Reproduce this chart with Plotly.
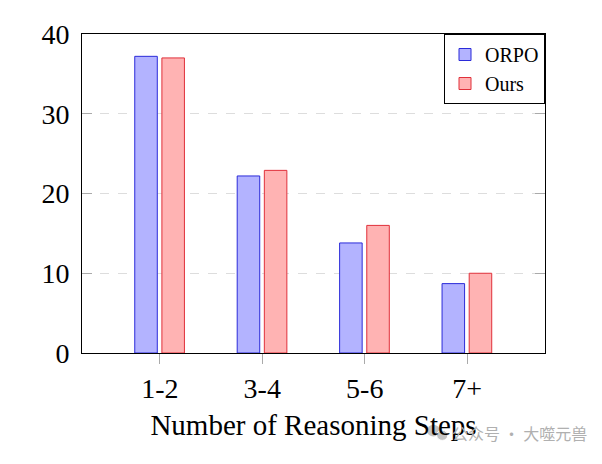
import plotly.graph_objects as go

categories = ["1-2", "3-4", "5-6", "7+"]
orpo_values = [37.2, 22.2, 13.8, 8.7]
ours_values = [37.0, 22.9, 16.0, 10.0]
y_ticks = [0, 10, 20, 30, 40]

serif = "Liberation Serif, Times New Roman, serif"

fig = go.Figure()
fig.add_trace(go.Bar(x=categories, y=orpo_values, name="ORPO",
                     marker=dict(color="#b3b3ff", line=dict(color="#2b2bd9", width=1)),
                     width=0.22, offset=-0.245))
fig.add_trace(go.Bar(x=categories, y=ours_values, name="Ours",
                     marker=dict(color="#ffb3b3", line=dict(color="#e0303a", width=1)),
                     width=0.22, offset=0.02))

fig.update_layout(
    width=602, height=464,
    margin=dict(l=82, r=57, t=34, b=111),
    plot_bgcolor="white", paper_bgcolor="white",
    font=dict(family=serif, color="black", size=28),
    showlegend=True,
    legend=dict(x=1, y=1, xanchor="right", yanchor="top",
                bordercolor="black", borderwidth=1, bgcolor="white",
                font=dict(size=20, family=serif), tracegroupgap=2),
    xaxis=dict(range=[-0.76, 3.76], showline=True, linecolor="black", linewidth=1,
               mirror=True, ticks="outside", ticklen=10, tickcolor="#aaaaaa",
               showgrid=False, tickfont=dict(size=28),
               title=dict(text="Number of Reasoning Steps", font=dict(size=29), standoff=12)),
    yaxis=dict(range=[0, 40], tickvals=y_ticks, showline=True, linecolor="black",
               linewidth=1, mirror="ticks", ticks="inside", ticklen=10, tickcolor="#aaaaaa",
               showgrid=True, gridcolor="#dddddd", griddash="dash", gridwidth=1,
               zeroline=False, tickfont=dict(size=28), ticklabelstandoff=6),
)

# watermark (wechat-like icon + text)
fig.add_shape(type="circle", xref="paper", yref="paper", x0=0.745, x1=0.773,
              y0=-0.262, y1=-0.225, fillcolor="#c4c4c4", line_width=0, layer="above")
fig.add_shape(type="circle", xref="paper", yref="paper", x0=0.766, x1=0.79,
              y0=-0.274, y1=-0.242, fillcolor="#c4c4c4", line=dict(color="white", width=1),
              layer="above")
fig.add_annotation(text="公众号 · 大噬元兽", xref="paper", yref="paper",
                   x=1.095, y=-0.252, xanchor="right", yanchor="middle", showarrow=False,
                   font=dict(family="Noto Sans CJK SC", size=16, color="#b0b0b0"))

fig.write_html("out.html", config={"displayModeBar": False},
               post_script="document.body.style.margin='0';")
